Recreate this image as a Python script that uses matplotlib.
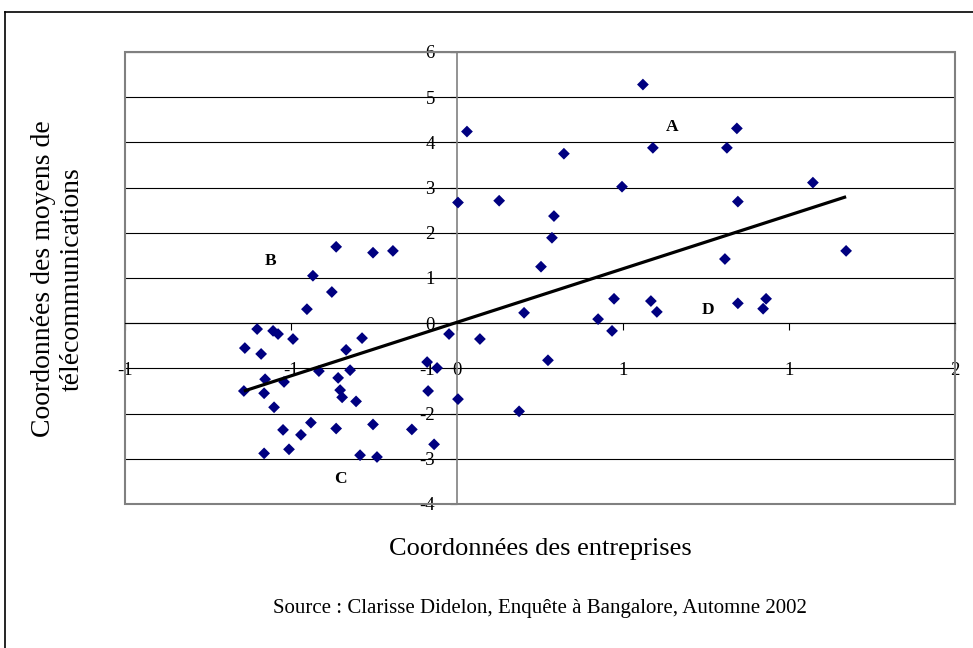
import matplotlib
matplotlib.use("Agg")
import matplotlib.pyplot as plt
from matplotlib.lines import Line2D
from matplotlib.patches import Rectangle
import numpy as np

plt.rcParams["font.family"] = ["Liberation Serif", "DejaVu Serif"]
plt.rcParams["axes.unicode_minus"] = False

# Firm coordinates (x) vs telecom-means coordinates (y), one point per firm
firm_x = [0.560, 0.030, 0.322, 0.590, 0.813, 0.843, 0.497, 0.846, 1.072, 1.172,
          0.807, 0.846, 0.931, 0.922, 0.003, 0.127, 0.292, 0.286, 0.253, 0.202,
          0.473, 0.425, 0.467, 0.584, 0.602, 0.069, 0.274, 0.003, 0.187, -0.024,
          -0.452, -0.364, -0.253, -0.193, -0.434, -0.377, -0.602, -0.554, -0.539,
          -0.494, -0.639, -0.590, -0.286, -0.334, -0.416, -0.322, -0.358, -0.578,
          -0.521, -0.642, -0.581, -0.352, -0.346, -0.304, -0.551, -0.090, -0.060,
          -0.087, -0.440, -0.364, -0.253, -0.524, -0.470, -0.136, -0.069, -0.581,
          -0.506, -0.292, -0.241]
telecom_y = [5.28, 4.24, 3.75, 3.88, 3.88, 4.31, 3.02, 2.69, 3.11, 1.60,
             1.42, 0.44, 0.54, 0.32, 2.67, 2.71, 2.37, 1.89, 1.25, 0.23,
             0.54, 0.09, -0.17, 0.49, 0.25, -0.35, -0.82, -1.68, -1.95, -0.24,
             0.31, 1.69, 1.56, 1.60, 1.05, 0.69, -0.13, -0.17, -0.24,
             -0.35, -0.55, -0.68, -0.33, -0.59, -1.06, -1.04, -1.21, -1.24,
             -1.30, -1.50, -1.55, -1.48, -1.64, -1.73, -1.86, -0.86, -0.99,
             -1.50, -2.20, -2.33, -2.24, -2.36, -2.47, -2.35, -2.68, -2.88,
             -2.79, -2.92, -2.96]

# linear trend (slope, intercept) drawn across the data range
trend_slope = 2.37
trend_intercept = 0.02

# Group letters and where they sit
group_names = ["A", "B", "C", "D"]
group_x = [0.648, -0.563, -0.352, 0.756]
group_y = [4.33, 1.38, -3.45, 0.29]

x_ticks = [-1.0, -0.5, 0.0, 0.5, 1.0, 1.5]
x_tick_labels = ["-1", "-1", "0", "1", "1", "2"]
y_ticks = [-4, -3, -2, -1, 0, 1, 2, 3, 4, 5, 6]

fig = plt.figure(figsize=(9.73, 6.48), dpi=100)

# outer frame, cut off on the right and bottom
fig.add_artist(Line2D([5 / 973, 1.0], [1 - 12 / 648, 1 - 12 / 648],
                      color="black", lw=1.2, transform=fig.transFigure))
fig.add_artist(Line2D([5 / 973, 5 / 973], [0.0, 1 - 12 / 648],
                      color="black", lw=1.2, transform=fig.transFigure))

ax = fig.add_axes([125 / 973, 1 - 504 / 648, 830 / 973, 452 / 648])
ax.set_xlim(-1, 1.5)
ax.set_ylim(-4, 6)

for yv in y_ticks:
    ax.axhline(yv, color="black", lw=0.8, zorder=1)

for side in ("top", "right"):
    ax.spines[side].set_visible(False)
ax.spines["left"].set_position(("data", 0))
ax.spines["bottom"].set_position(("data", 0))
ax.spines["left"].set_color("#808080")
ax.spines["left"].set_linewidth(1.2)
ax.spines["bottom"].set_color("black")
ax.spines["bottom"].set_linewidth(0.8)
ax.add_patch(Rectangle((0, 0), 1, 1, transform=ax.transAxes, fill=False,
                       edgecolor="#808080", lw=1.5, zorder=2, clip_on=False))

ax.set_xticks(x_ticks)
ax.set_xticklabels(x_tick_labels)
ax.set_yticks(y_ticks)
ax.tick_params(axis="x", direction="out", length=5, width=0.8, pad=23,
               labelsize=13.5, color="black")
ax.tick_params(axis="y", direction="out", length=5, width=0.8, pad=11,
               labelsize=13.5, color="black")

ax.scatter(firm_x, telecom_y, marker="D", s=36, color="#000080",
           edgecolors="none", zorder=4)

xs = np.array([min(firm_x), max(firm_x)])
ax.plot(xs, trend_slope * xs + trend_intercept, color="black", lw=2.3,
        zorder=5, solid_capstyle="butt")

for name, gx, gy in zip(group_names, group_x, group_y):
    ax.text(gx, gy, name, fontsize=12.5, fontweight="bold", ha="center",
            va="center", zorder=6)

fig.text(540 / 973, 1 - 549 / 648, "Coordonnées des entreprises",
         fontsize=19, ha="center", va="center")
fig.text(58 / 973, 1 - 279 / 648,
         "Coordonnées des moyens de\ntélécommunications",
         fontsize=20, rotation=90, ha="center", va="center",
         multialignment="center", linespacing=1.2)
fig.text(540 / 973, 1 - 609 / 648,
         "Source : Clarisse Didelon, Enquête à Bangalore, Automne 2002",
         fontsize=15, ha="center", va="center")

fig.savefig("out.png", dpi=100)
plt.close(fig)
